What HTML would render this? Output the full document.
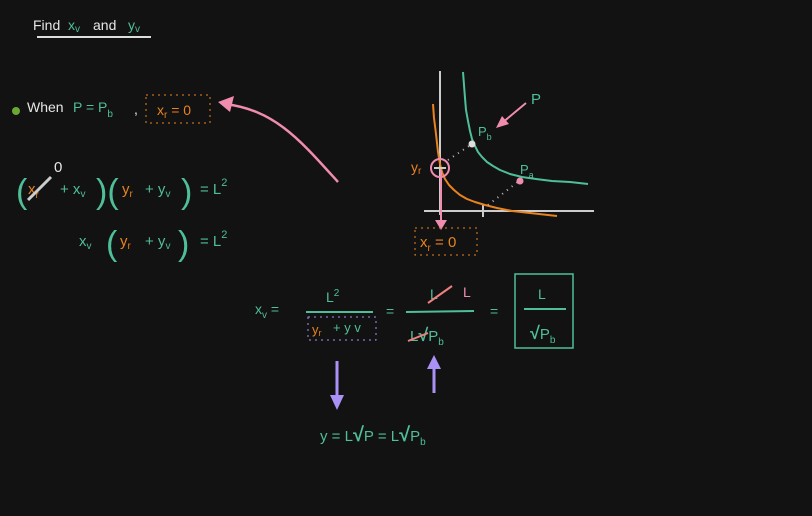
<!DOCTYPE html>
<html><head><meta charset="utf-8"><style>
html,body{margin:0;padding:0;background:#121212;}
svg{display:block;font-family:"Liberation Sans",sans-serif;}
.g{fill:#4fbf97}.o{fill:#e8831f}.w{fill:#e6e6e6}.p{fill:#f08cb0}
</style></head><body>
<svg width="812" height="516" viewBox="0 0 812 516">
<rect width="812" height="516" fill="#121212"/>
<g font-size="14">
<text x="33" y="30" class="w">Find</text><text x="68" y="30" class="g">x<tspan font-size="10" dy="2">v</tspan></text>
<text x="93" y="30" class="w" dy="0">and</text><text x="128" y="30" class="g">y<tspan font-size="10" dy="2">v</tspan></text>
<line x1="37" y1="37" x2="151" y2="37" stroke="#ddd" stroke-width="2"/>
</g>
<g font-size="14">
<circle cx="16" cy="111" r="4" fill="#6aa830"/>
<text x="27" y="112" class="w">When</text>
<text x="73" y="112" class="g">P  =  P<tspan font-size="10" dy="5">b</tspan></text>
<text x="134" y="114" class="w">,</text>
<rect x="146" y="95" width="64" height="28" fill="none" stroke="#e8831f" stroke-dasharray="2 4"/>
<text x="157" y="115" class="o">x<tspan font-size="10" dy="3">r</tspan><tspan dy="-3"> = 0</tspan></text>
</g>
<path d="M338 182 C300 140 275 110 225 104" fill="none" stroke="#f08cb0" stroke-width="2.5"/>
<polygon points="218,102 234,96 230,112" fill="#f08cb0"/>
<g font-size="15">
<text x="16" y="203" class="g" font-size="34" font-weight="300">(</text>
<text x="28" y="194" class="o">x<tspan font-size="10" dy="4">r</tspan></text>
<line x1="28" y1="200" x2="51" y2="177" stroke="#ccc" stroke-width="3"/>
<text x="54" y="172" class="w">0</text>
<text x="60" y="194" class="g">+  x<tspan font-size="10" dy="3">v</tspan></text>
<text x="96" y="203" class="g" font-size="34">)(</text>
<text x="122" y="194" class="o">y<tspan font-size="10" dy="3">r</tspan></text>
<text x="145" y="194" class="g">+  y<tspan font-size="10" dy="3">v</tspan></text>
<text x="181" y="203" class="g" font-size="34">)</text>
<text x="200" y="194" class="g">=   L<tspan font-size="11" dy="-8">2</tspan></text>
</g>
<g font-size="15">
<text x="79" y="246" class="g">x<tspan font-size="10" dy="3">v</tspan></text>
<text x="106" y="255" class="g" font-size="34">(</text>
<text x="120" y="246" class="o">y<tspan font-size="10" dy="3">r</tspan></text>
<text x="145" y="246" class="g">+  y<tspan font-size="10" dy="3">v</tspan></text>
<text x="178" y="255" class="g" font-size="34">)</text>
<text x="200" y="246" class="g">=   L<tspan font-size="11" dy="-8">2</tspan></text>
</g>
<g>
<line x1="440" y1="71" x2="440" y2="215" stroke="#ccc" stroke-width="2"/>
<line x1="424" y1="211" x2="594" y2="211" stroke="#ccc" stroke-width="2"/>
<line x1="483" y1="205" x2="483" y2="217" stroke="#ccc" stroke-width="2"/>
<path id="gc" fill="none" stroke="#4fbf97" stroke-width="2" stroke-linejoin="round"/>
<path id="oc" fill="none" stroke="#e8831f" stroke-width="2" stroke-linejoin="round"/>
<line x1="448" y1="160" x2="472" y2="144" stroke="#bbb" stroke-width="2" stroke-dasharray="1 5"/>
<line x1="488" y1="205" x2="519" y2="181" stroke="#bbb" stroke-width="2" stroke-dasharray="1 5"/>
<circle cx="472" cy="144" r="3.5" fill="#ddd"/>
<circle cx="520" cy="181" r="3.5" fill="#f08cb0"/>
<circle cx="440" cy="168" r="9" fill="none" stroke="#f08cb0" stroke-width="2"/>
<line x1="434" y1="168" x2="446" y2="168" stroke="#ccc" stroke-width="2"/>
<line x1="441" y1="170" x2="441" y2="222" stroke="#f08cb0" stroke-width="2"/>
<polygon points="435,220 447,220 441,230" fill="#f08cb0"/>
<line x1="526" y1="103" x2="502" y2="123" stroke="#f08cb0" stroke-width="2"/>
<polygon points="496,128 502,116 509,124" fill="#f08cb0"/>
<text x="531" y="104" class="g" font-size="15">P</text>
<text x="478" y="136" class="g" font-size="13">P<tspan font-size="9" dy="4">b</tspan></text>
<text x="520" y="174" class="g" font-size="13">P<tspan font-size="9" dy="4">a</tspan></text>
<text x="411" y="172" class="o" font-size="14">y<tspan font-size="10" dy="2">r</tspan></text>
<rect x="415" y="228" width="62" height="27" fill="none" stroke="#e8831f" stroke-dasharray="2 4"/>
<text x="420" y="247" class="o" font-size="15">x<tspan font-size="10" dy="4">r</tspan><tspan dy="-4"> = 0</tspan></text>
</g>
<g font-size="14">
<text x="255" y="314" class="g">x<tspan font-size="10" dy="4">v</tspan><tspan dy="-4"> =</tspan></text>
<text x="326" y="302" class="g">L<tspan font-size="10" dy="-6">2</tspan></text>
<line x1="306" y1="312" x2="373" y2="312" stroke="#4fbf97" stroke-width="2"/>
<rect x="308" y="317" width="68" height="23" fill="none" stroke="#a991f5" stroke-dasharray="2 4"/>
<text x="312" y="334" class="o" font-size="13">y<tspan font-size="9" dy="2">r</tspan></text>
<text x="333" y="332" class="g" font-size="13">+ y v</text>
<text x="386" y="316" class="g">=</text>
<text x="430" y="299" class="g">L</text>
<text x="463" y="297" class="p">L</text>
<line x1="428" y1="303" x2="452" y2="286" stroke="#f08080" stroke-width="2"/>
<line x1="406" y1="312" x2="474" y2="311" stroke="#4fbf97" stroke-width="2"/>
<text x="410" y="341" class="g" font-size="15">L<tspan font-weight="bold" font-size="18">√</tspan>P<tspan font-size="10" dy="4">b</tspan></text>
<line x1="408" y1="341" x2="428" y2="333" stroke="#f08080" stroke-width="2"/>
<text x="490" y="316" class="g">=</text>
<rect x="515" y="274" width="58" height="74" fill="none" stroke="#4fbf97" stroke-width="1.5"/>
<text x="538" y="299" class="g">L</text>
<line x1="524" y1="309" x2="566" y2="309" stroke="#4fbf97" stroke-width="2"/>
<text x="530" y="339" class="g" font-size="15"><tspan font-weight="bold" font-size="18">√</tspan>P<tspan font-size="10" dy="4">b</tspan></text>
</g>
<g>
<line x1="337" y1="361" x2="337" y2="397" stroke="#a991f5" stroke-width="3"/>
<polygon points="330,395 344,395 337,410" fill="#a991f5"/>
<line x1="434" y1="393" x2="434" y2="367" stroke="#a991f5" stroke-width="3"/>
<polygon points="427,369 441,369 434,355" fill="#a991f5"/>
</g>
<text x="320" y="441" class="g" font-size="15">y = L<tspan font-weight="bold" font-size="20">√</tspan>P = L<tspan font-weight="bold" font-size="20">√</tspan>P<tspan font-size="10" dy="4">b</tspan></text>
</svg>
<script>
var greenX=[463,464,465,466,468,470,472,475,478,482,487,493,500,510,522,536,552,570,588];
var greenY=[72,85,98,110,121,131,139,146,152,157,162,166,170,174,177,179,181,182,184];
var orangeX=[433,434,436,438,440,442,445,449,454,460,467,475,485,497,512,530,557];
var orangeY=[104,118,134,152,164,172,179,185,190,195,199,202,205,208,211,213,216];
function pts(xs,ys){
  return xs.map(function(x,i){return (i===0?'M':'L')+x+' '+ys[i];}).join(' ');
}
document.getElementById('gc').setAttribute('d',pts(greenX,greenY));
document.getElementById('oc').setAttribute('d',pts(orangeX,orangeY));
</script>
</body></html>
